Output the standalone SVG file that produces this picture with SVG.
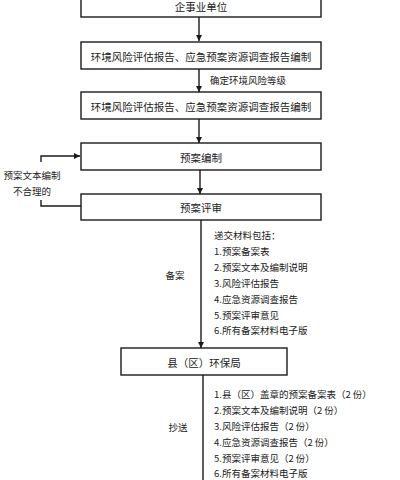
<svg xmlns="http://www.w3.org/2000/svg" width="400" height="480" viewBox="0 0 400 480">
<defs>
<marker id="ah" viewBox="0 0 10 10" refX="10" refY="5" markerWidth="6" markerHeight="6" markerUnits="userSpaceOnUse" orient="auto">
<path d="M0,0 L10,5 L0,10 z" fill="#1a1a1a"/>
</marker>
<style>
.box{fill:#fff;stroke:#1a1a1a;stroke-width:1.4}
.ln{fill:none;stroke:#1a1a1a;stroke-width:1.4}
.t{font-family:"Noto Sans CJK SC","Noto Sans",sans-serif;font-size:10.5px;fill:#222;text-anchor:middle;dominant-baseline:central}
.s{font-family:"Noto Sans CJK SC","Noto Sans",sans-serif;font-size:9.5px;fill:#222;dominant-baseline:central}
</style>
</defs>
<rect width="400" height="480" fill="#fff"/>
<g id="connectors">
<line class="ln" x1="199" y1="17" x2="199" y2="41" marker-end="url(#ah)"/>
<line class="ln" x1="199" y1="69" x2="199" y2="92" marker-end="url(#ah)"/>
<line class="ln" x1="199" y1="119" x2="199" y2="143" marker-end="url(#ah)"/>
<line class="ln" x1="200" y1="170" x2="200" y2="194" marker-end="url(#ah)"/>
<polyline class="ln" points="81,206 41,206 41,200"/>
<polyline class="ln" points="41,162 41,156 80,156" marker-end="url(#ah)"/>
<line class="ln" x1="201" y1="220" x2="201" y2="348" marker-end="url(#ah)"/>
<line class="ln" x1="203" y1="375" x2="203" y2="480"/>
<text class="s" x="210" y="80">确定环境风险等级</text>
<text class="s" x="32" y="175" text-anchor="middle">预案文本编制</text>
<text class="s" x="32" y="191" text-anchor="middle">不合理的</text>
<text class="s" x="175" y="275" text-anchor="middle">备案</text>
<text class="s" x="178" y="427" text-anchor="middle">抄送</text>
<g id="list1">
<text class="s" x="214" y="235">递交材料包括：</text>
<text class="s" x="214" y="251">1.预案备案表</text>
<text class="s" x="214" y="267">2.预案文本及编制说明</text>
<text class="s" x="214" y="283">3.风险评估报告</text>
<text class="s" x="214" y="299">4.应急资源调查报告</text>
<text class="s" x="214" y="315">5.预案评审意见</text>
<text class="s" x="214" y="330">6.所有备案材料电子版</text>
</g>
<g id="list2">
<text class="s" x="214" y="394">1.县（区）盖章的预案备案表（2 份）</text>
<text class="s" x="214" y="410">2.预案文本及编制说明（2 份）</text>
<text class="s" x="214" y="426">3.风险评估报告（2 份）</text>
<text class="s" x="214" y="442">4.应急资源调查报告（2 份）</text>
<text class="s" x="214" y="458">5.预案评审意见（2 份）</text>
<text class="s" x="214" y="473">6.所有备案材料电子版</text>
</g>
</g>
<g id="n1"><rect class="box" x="81" y="-10" width="240" height="27"/><text class="t" x="201" y="6">企事业单位</text></g>
<g id="n2"><rect class="box" x="81" y="42" width="240" height="27"/><text class="t" x="201" y="56">环境风险评估报告、应急预案资源调查报告编制</text></g>
<g id="n3"><rect class="box" x="81" y="92" width="240" height="27"/><text class="t" x="201" y="106">环境风险评估报告、应急预案资源调查报告编制</text></g>
<g id="n4"><rect class="box" x="81" y="143" width="240" height="27"/><text class="t" x="201" y="157">预案编制</text></g>
<g id="n5"><rect class="box" x="81" y="194" width="240" height="26"/><text class="t" x="201" y="207">预案评审</text></g>
<g id="n6"><rect class="box" x="121" y="348" width="166" height="27"/><text class="t" x="204" y="362">县（区）环保局</text></g>
</svg>
